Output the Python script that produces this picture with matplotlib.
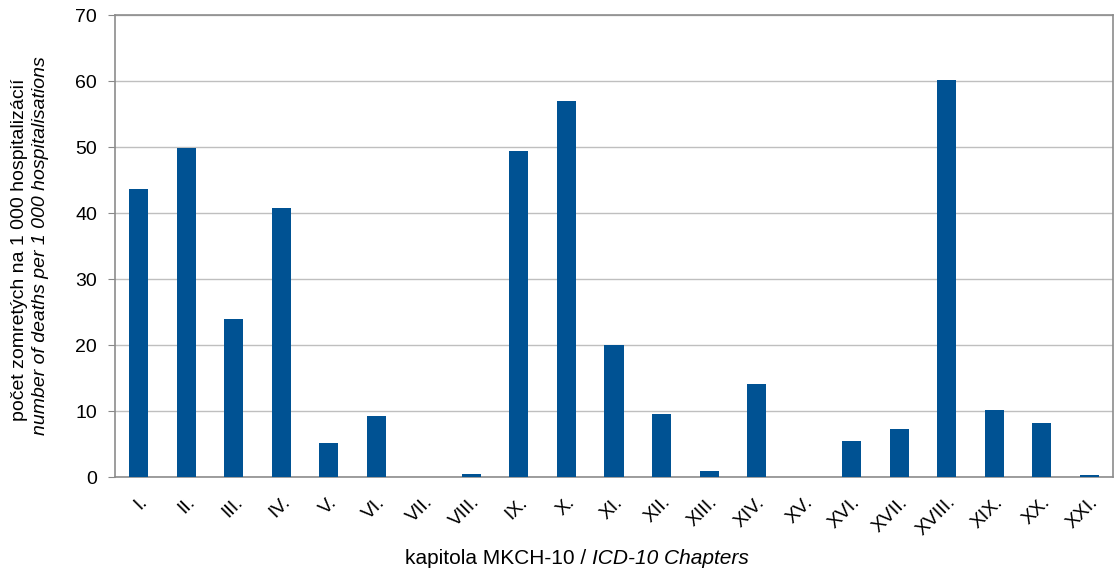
import numpy as np
import matplotlib.pyplot as plt

plt.rcParams['font.family'] = ['Liberation Sans', 'DejaVu Sans']

chapters = ['I.', 'II.', 'III.', 'IV.', 'V.', 'VI.', 'VII.', 'VIII.', 'IX.', 'X.',
            'XI.', 'XII.', 'XIII.', 'XIV.', 'XV.', 'XVI.', 'XVII.', 'XVIII.', 'XIX.',
            'XX.', 'XXI.']
deaths_per_1000 = [43.6, 49.8, 23.9, 40.8, 5.2, 9.2, 0.0, 0.5, 49.4, 56.9,
                   20.0, 9.5, 0.9, 14.1, 0.0, 5.4, 7.3, 60.1, 10.1, 8.2, 0.3]
yticks = [0, 10, 20, 30, 40, 50, 60, 70]

W, H = 1117, 572
fig = plt.figure(figsize=(W / 100, H / 100), dpi=100)
ax = fig.add_axes([115 / W, 1 - 477 / H, 998 / W, 462 / H])

x = np.arange(len(chapters))
ax.bar(x, deaths_per_1000, width=0.4, color='#005293', zorder=3)

ax.set_xlim(-0.5, len(chapters) - 0.5)
ax.set_ylim(0, 70)
ax.set_yticks(yticks)
ax.yaxis.grid(True, color='#bfbfbf', linewidth=1, zorder=0)

ax.set_xticks(x)
ax.set_xticklabels(chapters, rotation=45, ha='right', rotation_mode='anchor')
ax.tick_params(axis='x', length=0, pad=12, labelsize=14)
ax.tick_params(axis='y', length=5, color='#888888', labelsize=14, pad=8)

for s in ax.spines.values():
    s.set_color('#8c8c8c')
    s.set_linewidth(1.2)

# y label: two lines, second one in italics
fig.text(20 / W, 1 - 250 / H, 'počet zomretých na 1 000 hospitalizácií',
         rotation=90, ha='center', va='center', fontsize=14)
fig.text(41 / W, 1 - 246 / H, 'number of deaths per 1 000 hospitalisations',
         rotation=90, ha='center', va='center', fontsize=14, style='italic')

# x label: regular part followed by italic part
t1 = fig.text(405 / W, 1 - 558 / H, 'kapitola MKCH-10 / ',
              ha='left', va='center', fontsize=15)
ax.annotate('ICD-10 Chapters', xy=(1, 0), xycoords=t1, ha='left', va='bottom',
            fontsize=15, style='italic', annotation_clip=False)

fig.savefig('out.png', dpi=100)
